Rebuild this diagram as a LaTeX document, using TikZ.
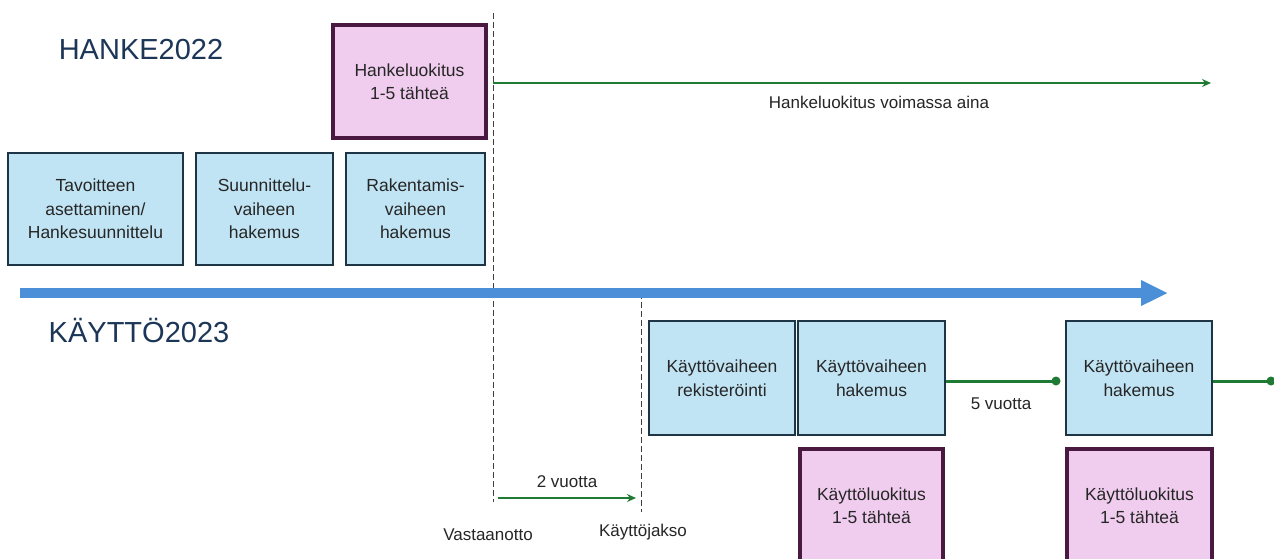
\documentclass[tikz,border=0pt]{standalone}
\usepackage{fontspec}
\setmainfont{Liberation Sans}
\usetikzlibrary{arrows.meta}
\definecolor{boxblue}{HTML}{C1E4F4}
\definecolor{boxblueline}{HTML}{1E3545}
\definecolor{boxpink}{HTML}{F0CDEE}
\definecolor{boxpinkline}{HTML}{4A1942}
\definecolor{txt}{HTML}{262626}
\definecolor{navy}{HTML}{1C3657}
\definecolor{grn}{HTML}{1F7A33}
\definecolor{bigblue}{HTML}{4A8FD8}
\tikzset{
  bluebox/.style={draw=boxblueline, line width=2.2pt, fill=boxblue, text=txt,
    align=center, inner sep=0pt,
    font=\fontsize{17.5}{23.5}\selectfont},
  pinkbox/.style={draw=boxpinkline, line width=3.4pt, fill=boxpink, text=txt,
    align=center, inner sep=0pt,
    font=\fontsize{17.5}{23.5}\selectfont},
  title/.style={text=navy, font=\fontsize{29}{34}\selectfont, inner sep=0pt},
  lbl/.style={text=txt, font=\fontsize{17}{21}\selectfont, inner sep=0pt},
  vdash/.style={draw=black!75, line width=1pt, dash pattern=on 6pt off 3pt},
  grline/.style={draw=grn, line width=3pt},
  dot/.style={circle, fill=grn, inner sep=0pt, minimum size=9pt},
}
\begin{document}
\begin{tikzpicture}[x=1pt, y=-1pt]
\useasboundingbox (0,0) rectangle (1274,558);
\clip (0,0) rectangle (1274,558);
\fill[white] (0,0) rectangle (1274,558);

% titles
\node[title] (hanke) at (141,50) {HANKE2022};
\node[title] (kaytto) at (139,330) {KÄYTTÖ2023};

% upper boxes
\node[pinkbox, minimum width=153pt, minimum height=113pt] (hl) at (409.5,81.5) {Hankeluokitus\\1-5 tähteä};
\node[bluebox, minimum width=175pt, minimum height=112pt] (t1) at (95.5,209) {Tavoitteen\\asettaminen/\\Hankesuunnittelu};
\node[bluebox, minimum width=137pt, minimum height=112pt] (t2) at (264.5,209) {Suunnittelu-\\vaiheen\\hakemus};
\node[bluebox, minimum width=139pt, minimum height=112pt] (t3) at (415.5,209) {Rakentamis-\\vaiheen\\hakemus};

% dashed verticals
\coordinate (d1top) at (493,13);
\coordinate (d1bot) at (493,502);
\coordinate (d2top) at (641,293);
\coordinate (d2bot) at (641,512);
\draw[vdash] (d1top) -- (d1bot);
\draw[vdash] (d2top) -- (d2bot);

% big timeline arrow
\coordinate (tlstart) at (20,293);
\coordinate (tlend) at (1168,293);
\draw[bigblue, line width=9.5pt, -{Triangle[length=27pt, width=24pt]}] (tlstart) -- (tlend);

% hankeluokitus arrow
\coordinate (ha) at (493,83);
\coordinate (hb) at (1211,83);
\draw[grline, line width=2.6pt, -{Stealth[length=9pt, width=8pt]}] (ha) -- (hb);
\node[lbl] (hlabel) at (879,102) {Hankeluokitus voimassa aina};

% lower boxes
\node[bluebox, minimum width=146pt, minimum height=114pt] (k1) at (722,378) {Käyttövaiheen\\rekisteröinti};
\node[bluebox, minimum width=147pt, minimum height=114pt] (k2) at (871.5,378) {Käyttövaiheen\\hakemus};
\node[bluebox, minimum width=146pt, minimum height=114pt] (k3) at (1139,378) {Käyttövaiheen\\hakemus};

\node[pinkbox, minimum width=143pt, minimum height=113pt] (p1) at (871.5,505.5) {Käyttöluokitus\\1-5 tähteä};
\node[pinkbox, minimum width=145pt, minimum height=113pt] (p2) at (1139.5,505.5) {Käyttöluokitus\\1-5 tähteä};

% 5 vuotta connectors
\node[dot] (dot1) at (1056,381) {};
\node[dot] (dot2) at (1271,381) {};
\draw[grline] (k2.east |- dot1) -- (dot1.center);
\draw[grline] (k3.east |- dot2) -- (dot2.center);
\node[lbl] (five) at (1001,404) {5 vuotta};

% 2 vuotta
\coordinate (ta) at (498,498);
\coordinate (tb) at (636,498);
\draw[grline, line width=2.6pt, -{Stealth[length=9pt, width=8pt]}] (ta) -- (tb);
\node[lbl] (two) at (567,482) {2 vuotta};

\node[lbl] (vast) at (488,535) {Vastaanotto};
\node[lbl] (jakso) at (643,532) {Käyttöjakso};
\end{tikzpicture}
\end{document}
